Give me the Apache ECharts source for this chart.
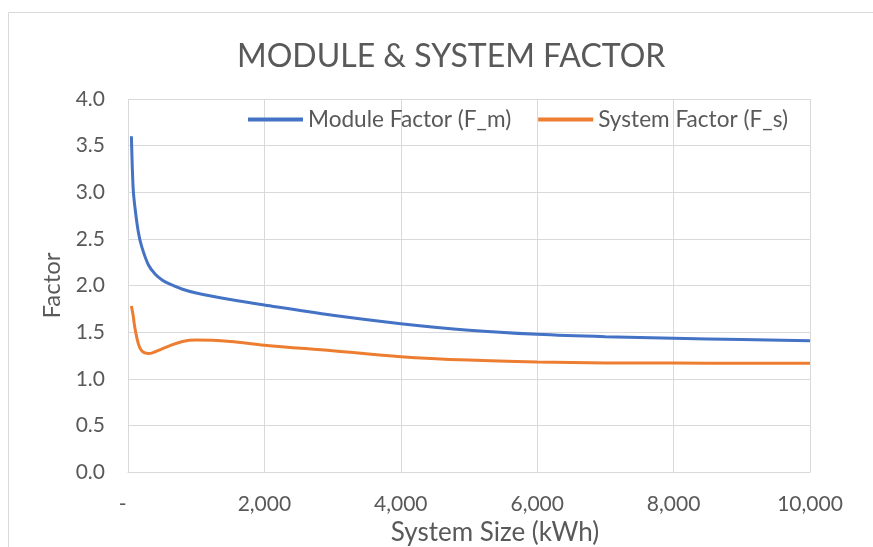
<!DOCTYPE html>
<html>
<head>
<meta charset="utf-8">
<script src="https://cdn.jsdelivr.net/npm/echarts@6/dist/echarts.min.js"></script>
<style>
  html, body { margin: 0; padding: 0; background: #fff; }
  #chart { width: 873px; height: 547px; }
</style>
</head>
<body>
<div id="chart"></div>
<script>
// System size in kWh
const systemSizes = [50, 75, 100, 150, 200, 300, 400, 500, 600, 800, 1000, 1500, 2000, 3000, 4000, 5000, 6000, 7000, 8000, 9000, 10000];
// Module factor F_m per system size
const moduleFactor = [3.60, 3.05, 2.85, 2.58, 2.42, 2.22, 2.12, 2.06, 2.02, 1.96, 1.92, 1.85, 1.79, 1.68, 1.59, 1.52, 1.476, 1.45, 1.434, 1.42, 1.408];
// System factor F_s per system size
const systemFactor = [1.78, 1.68, 1.55, 1.38, 1.30, 1.27, 1.29, 1.32, 1.35, 1.40, 1.415, 1.40, 1.36, 1.30, 1.237, 1.20, 1.18, 1.17, 1.168, 1.166, 1.165];

const yTicks = [0, 0.5, 1, 1.5, 2, 2.5, 3, 3.5, 4];

const textColor = '#595959';
const gridColor = '#d9d9d9';
const font = 'Lato';

const pairs = (ys) => systemSizes.map((x, i) => [x, ys[i]]);

const chart = echarts.init(document.getElementById('chart'));
chart.setOption({
  animation: false,
  backgroundColor: '#fff',
  graphic: [{
    type: 'rect',
    shape: { x: 8.5, y: 12.5, width: 900, height: 600 },
    style: { fill: 'none', stroke: gridColor, lineWidth: 1 },
    silent: true
  }],
  title: {
    text: 'MODULE & SYSTEM FACTOR',
    left: 232,
    top: 36,
    textStyle: { fontFamily: font, fontSize: 32, fontWeight: 'normal', color: textColor }
  },
  legend: {
    top: 108,
    left: 248,
    padding: 0,
    itemWidth: 55,
    itemHeight: 4,
    itemGap: 27,
    icon: 'rect',
    textStyle: { fontFamily: font, fontSize: 22.6, color: textColor },
    data: ['Module Factor (F_m)', 'System Factor (F_s)']
  },
  grid: { left: 128, right: 63, top: 99, bottom: 75, containLabel: false, outerBoundsMode: 'none' },
  xAxis: {
    type: 'value',
    min: 0,
    max: 10000,
    interval: 2000,
    name: 'System Size (kWh)',
    nameLocation: 'middle',
    nameGap: 47,
    nameTextStyle: { fontFamily: font, fontSize: 26, color: textColor, padding: [0, 0, 0, 52] },
    axisLine: { show: true, lineStyle: { color: gridColor, width: 1 } },
    axisTick: { show: false },
    axisLabel: {
      fontFamily: font, fontSize: 21, color: textColor, margin: 22,
      formatter: (v) => v === 0 ? '-  ' : v.toLocaleString('en-US')
    },
    splitLine: { show: true, lineStyle: { color: gridColor, width: 1 } }
  },
  yAxis: {
    type: 'value',
    min: 0,
    max: 4,
    interval: 0.5,
    name: 'Factor',
    nameLocation: 'middle',
    nameGap: 64,
    nameTextStyle: { fontFamily: font, fontSize: 24, color: textColor },
    axisLine: { show: false },
    axisTick: { show: false },
    axisLabel: {
      fontFamily: font, fontSize: 21, color: textColor, margin: 23,
      formatter: (v) => yTicks.includes(v) ? v.toFixed(1) : ''
    },
    splitLine: { show: true, lineStyle: { color: gridColor, width: 1 } }
  },
  series: [
    {
      name: 'Module Factor (F_m)',
      type: 'line',
      data: pairs(moduleFactor),
      smooth: 0.35,
      showSymbol: false,
      color: '#4472C4',
      lineStyle: { width: 3, color: '#4472C4' }
    },
    {
      name: 'System Factor (F_s)',
      type: 'line',
      data: pairs(systemFactor),
      smooth: 0.35,
      showSymbol: false,
      color: '#ED7D31',
      lineStyle: { width: 3, color: '#ED7D31' }
    }
  ]
});
</script>
</body>
</html>
